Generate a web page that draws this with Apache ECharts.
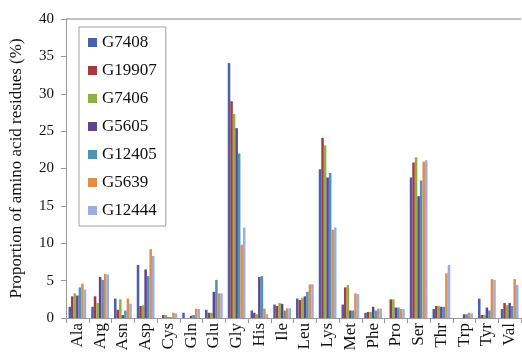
<!DOCTYPE html>
<html><head><meta charset="utf-8">
<script src="https://cdn.jsdelivr.net/npm/echarts@6/dist/echarts.min.js"></script>
<style>html,body{margin:0;padding:0;background:#fff}#c{width:522px;height:354px}</style>
</head><body><div id="c"></div>
<script>
const categories = ['Ala','Arg','Asn','Asp','Cys','Gln','Glu','Gly','His','Ile','Leu','Lys','Met','Phe','Pro','Ser','Thr','Trp','Tyr','Val'];
const seriesNames = ['G7408','G19907','G7406','G5605','G12405','G5639','G12444'];
const G7408  = [1.5,1.5,2.6,7.1,0.0,0.7,1.1,34.1,1.0,1.8,2.6,19.9,1.8,0.7,0.0,18.8,1.2,0.0,2.6,1.2];
const G19907 = [2.9,2.9,1.1,1.6,0.4,0.0,0.7,29.0,0.7,1.6,2.4,24.1,4.1,0.8,2.5,20.8,1.6,0.0,0.4,2.0];
const G7406  = [3.3,2.0,2.5,1.7,0.4,0.0,0.7,27.3,0.5,2.0,2.7,23.1,4.4,0.8,2.5,21.5,1.6,0.0,0.4,1.7];
const G5605  = [3.0,5.5,0.4,6.5,0.1,0.3,3.5,25.4,5.5,1.9,2.9,18.8,1.0,1.5,1.4,16.3,1.5,0.5,1.4,2.0];
const G12405 = [4.1,5.1,1.0,5.6,0.1,0.4,5.1,22.0,5.6,1.0,3.5,19.4,1.0,1.0,1.4,18.4,1.5,0.5,1.0,1.6];
const G5639  = [4.6,5.9,2.6,9.2,0.7,1.25,3.3,9.8,1.25,1.3,4.5,11.8,3.3,1.25,1.2,20.9,6.0,0.7,5.2,5.2];
const G12444 = [3.8,5.8,1.9,8.3,0.6,1.2,3.3,12.1,0.5,1.3,4.5,12.1,3.2,1.25,1.2,21.1,7.1,0.6,5.1,4.4];
const yTicks = [0,5,10,15,20,25,30,35,40];
const values = [G7408,G19907,G7406,G5605,G12405,G5639,G12444];
const colors = ['#4a5fae','#a33a3c','#91b043','#5d4592','#4e93b8','#e08d4b','#9aaee0'];
const serif = '"Liberation Serif","DejaVu Serif",serif';

const chart = echarts.init(document.getElementById('c'));
chart.setOption({
  animation:false,
  color: colors,
  grid:{left:62,right:1,top:19,bottom:36,containLabel:false},
  legend:{
    orient:'vertical', left:79, top:27, data:seriesNames,
    icon:'rect', itemWidth:9, itemHeight:9, itemGap:11,
    padding:[7,9,7,9],
    borderColor:'#a0a0a0', borderWidth:1, backgroundColor:'#fff',
    textStyle:{fontFamily:serif,fontSize:17,color:'#111'}
  },
  xAxis:{
    type:'category', data:categories,
    axisLine:{lineStyle:{color:'#999'}},
    axisTick:{show:true,length:5,lineStyle:{color:'#999'}},
    axisLabel:{rotate:90,fontFamily:serif,fontSize:17,color:'#111',margin:5,interval:0}
  },
  yAxis:{
    type:'value', min:0, max:40, interval:5,
    name:'Proportion of amino acid residues (%)', nameLocation:'middle', nameGap:41,
    nameTextStyle:{fontFamily:serif,fontSize:17,color:'#111'},
    axisLine:{show:true,lineStyle:{color:'#999'}},
    axisTick:{show:true,length:5,lineStyle:{color:'#999'}},
    axisLabel:{fontFamily:serif,fontSize:15,color:'#111',margin:12,
      formatter:v=>yTicks.includes(v)?String(v):''},
    splitLine:{show:true,lineStyle:{color:['rgba(0,0,0,0)','rgba(0,0,0,0)','rgba(0,0,0,0)','rgba(0,0,0,0)','rgba(0,0,0,0)','rgba(0,0,0,0)','rgba(0,0,0,0)','rgba(0,0,0,0)','#aaa'],width:1.5}}
  },
  series: seriesNames.map((n,i)=>({
    name:n, type:'bar', data:values[i], barGap:'0%', barCategoryGap:'22%'
  }))
});
</script></body></html>
